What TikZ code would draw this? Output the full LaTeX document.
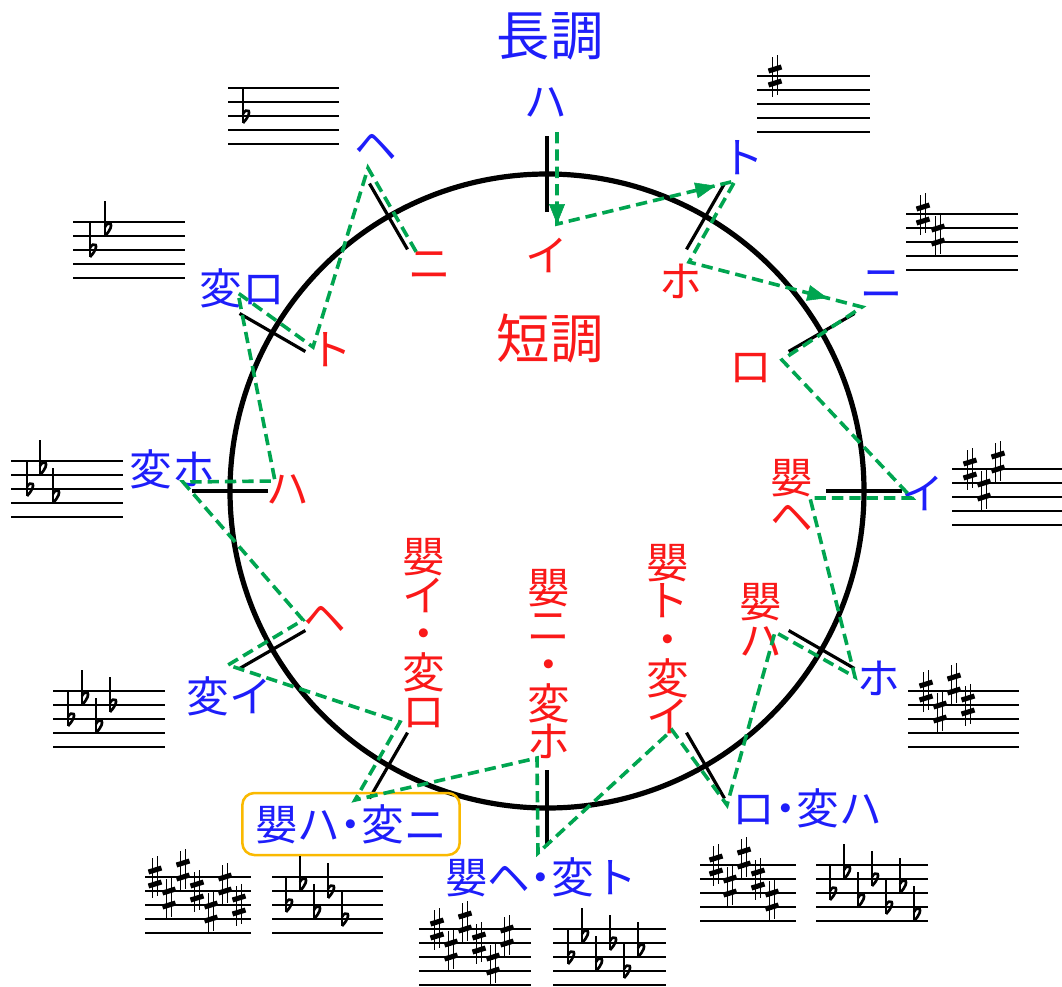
\documentclass[tikz,border=0pt]{standalone}
\usepackage{fontspec}
\newfontfamily\jp{Noto Sans CJK JP}
\usetikzlibrary{calc,arrows.meta,decorations.markings}
\definecolor{mblue}{RGB}{30,30,250}
\definecolor{mred}{RGB}{250,25,25}
\definecolor{grn}{RGB}{0,165,80}
\definecolor{boxor}{RGB}{250,185,0}
\newcommand{\nkg}{\makebox[0.5em]{・}}
\tikzset{
  sharp/.pic={
    \draw[line width=1.4pt] (-2.5,-19) -- (-2.5,21);
    \draw[line width=1.4pt] (2.5,-21) -- (2.5,19);
    \draw[line width=3.8pt] (-6.5,-5) -- (6.5,-9);
    \draw[line width=3.8pt] (-6.5,9) -- (6.5,5);
  },
  flat/.pic={
    \draw[line width=1pt] (0,-28) -- (0,7);
    \draw[line width=2pt] (0,-2) .. controls (3,-9) and (12,-6) .. (0,7);
  },
  staffline/.style={line width=1.4pt, black},
}
\newcommand{\sharpkey}[6]{%
  \foreach \k in {0,...,4} {\draw[staffline] ({#1},{#2+14*\k}) -- ++({#3},0);}
  \foreach \p [count=\i] in {0,3,-1,2,5,1,4} {%
    \ifnum\i>#4\relax\else
      \pic at ({#1+#5+#6*(\i-1)},{#2+7*\p}) {sharp};
    \fi}%
}
\newcommand{\flatkey}[6]{%
  \foreach \k in {0,...,4} {\draw[staffline] ({#1},{#2+14*\k}) -- ++({#3},0);}
  \foreach \p [count=\i] in {4,1,5,2,6,3,7} {%
    \ifnum\i>#4\relax\else
      \pic at ({#1+#5+#6*(\i-1)},{#2+7*\p}) {flat};
    \fi}%
}
\begin{document}
\begin{tikzpicture}[x=0.75pt,y=-0.75pt,
  maj/.style={text=mblue, font=\jp\fontsize{32}{29}\selectfont, inner sep=0pt},
  mnr/.style={text=mred, font=\jp\fontsize{32}{29}\selectfont, align=center, inner sep=0pt,
    execute at begin node={\setlength{\lineskiplimit}{-50pt}}},
  big/.style={font=\jp\fontsize{40}{40}\selectfont, inner sep=0pt},
  tickline/.style={line width=2.4pt, black},
  gpath/.style={grn, line width=2.7pt, dash pattern=on 8.5pt off 4.5pt},
  garrow/.style={color=grn, postaction={decorate},
    decoration={markings, mark=at position #1 with {\arrow{Triangle[length=15pt,width=12pt]}}}},
]
\path[use as bounding box, fill=white] (0,0) rectangle (1062,986);

% circle and ticks
\coordinate (C) at (547,491);
\draw[line width=3.9pt] (C) circle[radius=237.75pt];
\foreach \a in {90,60,...,-240}
  \draw[tickline] ($(C)+(\a:209.25pt)$) -- ($(C)+(\a:266.25pt)$);

% titles
\node[big, text=mblue] (major) at (550,36) {長調};
\node[big, text=mred] (minor) at (550,338) {短調};

% major keys (blue)
\node[maj] (MC) at (546,103) {ハ};
\node[maj] (MG) at (743,158) {ト};
\node[maj] (MD) at (882,285) {ニ};
\node[maj] (MA) at (923,493) {イ};
\node[maj] (ME) at (879,678) {ホ};
\node[maj] (MB) at (807,808) {ロ\nkg 変ハ};
\node[maj] (MFs) at (541,877) {嬰ヘ\nkg 変ト};
\node[maj, draw=boxor, line width=1.9pt, rounded corners=9pt, minimum width=163pt, minimum height=46.5pt] (MCs) at (351,824) {嬰ハ\nkg 変ニ};
\node[maj] (MAb) at (229,696) {変イ};
\node[maj] (MEb) at (172,469) {変ホ};
\node[maj] (MBb) at (242,288) {変ロ};
\node[maj] (MF) at (376,147) {ヘ};

% minor keys (red)
\node[mnr] (mA) at (547,255) {イ};
\node[mnr] (mE) at (681,281) {ホ};
\node[mnr] (mB) at (751,368) {ロ};
\node[mnr] (mFs) at (792,496) {嬰\\ヘ};
\node[mnr] (mCs) at (761,620) {嬰\\ハ};
\node[mnr] (mGs) at (668,639) {嬰\\ト\\・\\変\\イ};
\node[mnr] (mDs) at (549,664) {嬰\\ニ\\・\\変\\ホ};
\node[mnr] (mAs) at (424,633) {嬰\\イ\\・\\変\\ロ};
\node[mnr] (mF) at (325,619) {ヘ};
\node[mnr] (mC) at (288,490) {ハ};
\node[mnr] (mG) at (331,350) {ト};
\node[mnr] (mD) at (430,266) {ニ};

% key signatures
\sharpkey{757}{76}{113}{1}{18}{14}
\sharpkey{906}{214}{112}{2}{17}{15}
\sharpkey{952}{469}{110}{3}{18}{14}
\sharpkey{908}{691}{111}{4}{18}{14}
\sharpkey{700}{865}{96}{5}{16}{14}
\sharpkey{419}{929}{112}{6}{18}{14}
\sharpkey{145}{877}{106}{7}{10}{14}
\flatkey{228}{88}{111}{1}{15}{14}
\flatkey{73}{222}{112}{2}{17}{15}
\flatkey{11}{461}{112}{3}{16}{13}
\flatkey{53}{691}{112}{4}{15}{14}
\flatkey{272}{877}{111}{5}{14}{14}
\flatkey{553}{929}{113}{6}{15}{14}
\flatkey{816}{865}{112}{7}{14}{14}

% green path vertices
\coordinate (v0) at (557,132);
\coordinate (v1) at (557,224);
\coordinate (v2) at (735,181);
\coordinate (v3) at (689,262);
\coordinate (v4) at (862,307);
\coordinate (v5) at (782,360);
\coordinate (v6) at (912,498);
\coordinate (v7) at (810,498);
\coordinate (v8) at (855,677);
\coordinate (v9) at (775,632);
\coordinate (v10) at (727,805);
\coordinate (v11) at (672,730);
\coordinate (v12) at (538,853);
\coordinate (v13) at (537,758);
\coordinate (v14) at (355,800);
\coordinate (v15) at (400,722);
\coordinate (v16) at (228,665);
\coordinate (v17) at (303,620);
\coordinate (v18) at (183,482);
\coordinate (v19) at (275,481);
\coordinate (v20) at (238,293);
\coordinate (v21) at (313,347);
\coordinate (v22) at (368,168);
\coordinate (v23) at (418,255);

\draw[gpath] (v0) -- (v1) -- (v2) -- (v3) -- (v4) -- (v5) -- (v6) -- (v7) -- (v8)
  -- (v9) -- (v10) -- (v11) -- (v12) -- (v13) -- (v14) -- (v15) -- (v16) -- (v17)
  -- (v18) -- (v19) -- (v20) -- (v21) -- (v22) -- (v23);
\path[garrow=1] (v0) -- (v1);
\path[garrow=0.89] (v1) -- (v2);
\path[garrow=0.8] (v3) -- (v4);
\end{tikzpicture}
\end{document}
